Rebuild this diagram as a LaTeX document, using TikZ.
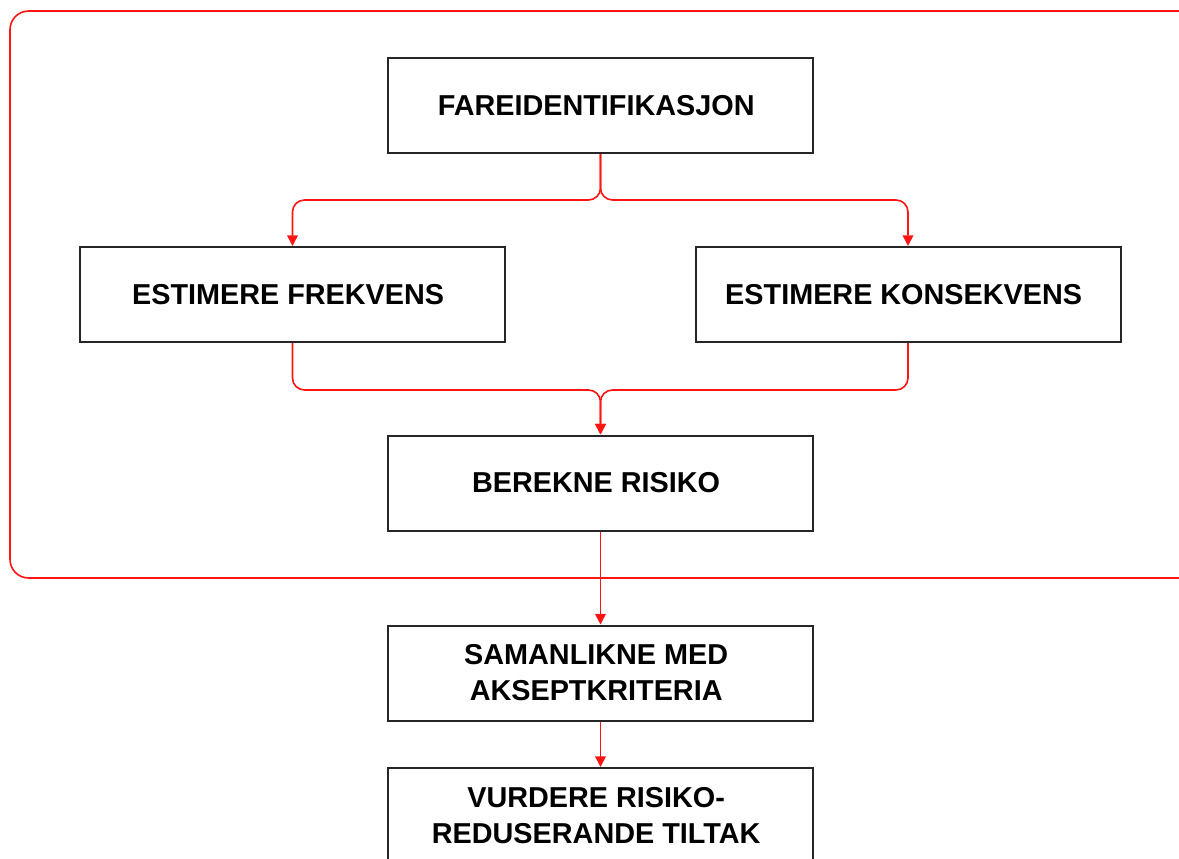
\documentclass[tikz,border=0pt]{standalone}
\usepackage{fontspec}
\setmainfont{Liberation Sans}
\usetikzlibrary{arrows.meta}
\definecolor{linered}{RGB}{255,20,20}
\newcommand{\lsh}{\hspace*{6.5pt}}
\tikzset{
  stepbox/.style={draw=black!85, line width=1.5pt, fill=white, inner sep=0pt,
    minimum width=318.75pt, minimum height=71.25pt, align=center,
    font=\fontsize{21.6}{27}\selectfont\bfseries},
  conn/.style={draw=linered, line width=1.2pt, rounded corners=9pt,
    -{Triangle[width=8pt,length=8pt]}},
  frame/.style={draw=linered, line width=1.2pt, rounded corners=14pt}
}
\begin{document}
\begin{tikzpicture}[x=0.75pt,y=-0.75pt]
\useasboundingbox (0,0) rectangle (1179,858);
\draw[frame] (10,11) rectangle (1200,578);
\node[stepbox] (fare) at (600.5,105.5) {FAREIDENTIFIKASJON\lsh};
\node[stepbox] (frek) at (292.5,294.5) {ESTIMERE FREKVENS\lsh};
\node[stepbox] (kons) at (908,294.5) {ESTIMERE KONSEKVENS\lsh};
\node[stepbox] (risk) at (600.5,483) {BEREKNE RISIKO\lsh};
\node[stepbox] (saml) at (600.5,673) {SAMANLIKNE MED\lsh\\AKSEPTKRITERIA\lsh};
\node[stepbox] (vurd) at (600.5,815.5) {VURDERE RISIKO-\lsh\\REDUSERANDE TILTAK\lsh};
\coordinate (split) at (600.5,200);
\coordinate (merge) at (600.5,390);
\draw[conn] (fare.south) |- (frek.north |- split) -- (frek.north);
\draw[conn] (fare.south) |- (kons.north |- split) -- (kons.north);
\draw[conn] (frek.south) |- (risk.north |- merge) -- (risk.north);
\draw[conn] (kons.south) |- (risk.north |- merge) -- (risk.north);
\draw[conn] (risk.south) -- (saml.north);
\draw[conn] (saml.south) -- (vurd.north);
\end{tikzpicture}
\end{document}
